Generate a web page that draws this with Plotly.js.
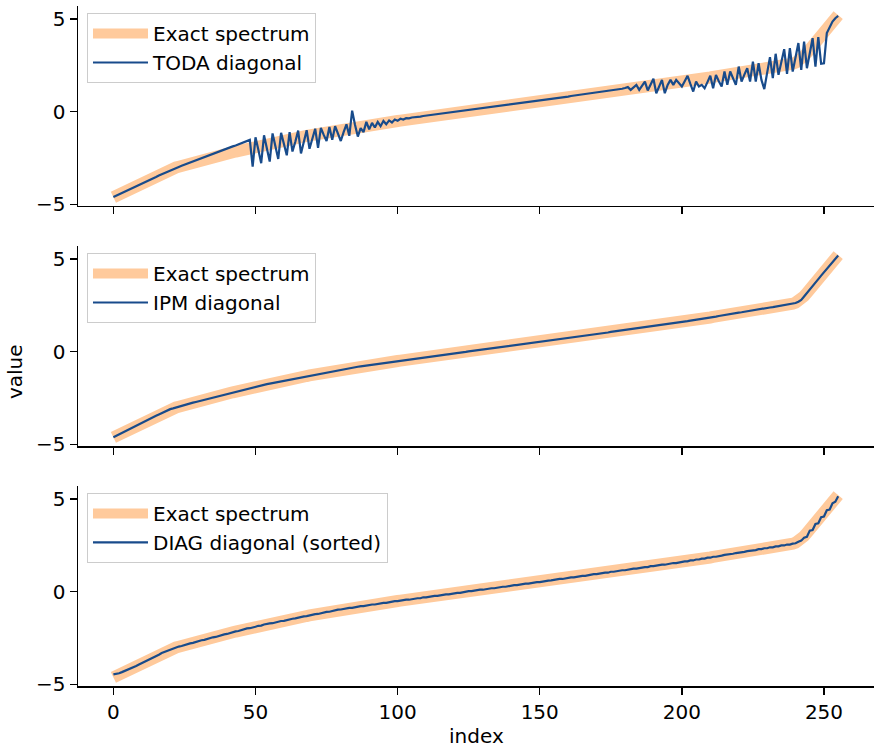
<!DOCTYPE html>
<html>
<head>
<meta charset="utf-8">
<script src="https://cdn.plot.ly/plotly-3.0.1.min.js"></script>
<style>html,body{margin:0;padding:0;background:#fff;}#chart{width:874px;height:750px;}</style>
</head>
<body>
<div id="chart"></div>
<script>
// ---- data ----
const exactSpectrum = [
-4.62,-4.54,-4.47,-4.39,-4.31,-4.23,-4.16,-4.08,-4.00,-3.92,
-3.85,-3.77,-3.69,-3.62,-3.54,-3.46,-3.39,-3.31,-3.23,-3.15,
-3.10,-3.06,-3.01,-2.97,-2.92,-2.88,-2.84,-2.79,-2.75,-2.71,
-2.67,-2.63,-2.59,-2.55,-2.51,-2.47,-2.43,-2.39,-2.35,-2.31,
-2.27,-2.23,-2.19,-2.15,-2.11,-2.07,-2.03,-1.99,-1.96,-1.92,
-1.88,-1.85,-1.82,-1.78,-1.75,-1.72,-1.69,-1.66,-1.62,-1.59,
-1.56,-1.53,-1.50,-1.47,-1.43,-1.40,-1.37,-1.34,-1.31,-1.28,
-1.25,-1.22,-1.19,-1.16,-1.13,-1.10,-1.07,-1.04,-1.01,-0.98,
-0.95,-0.93,-0.90,-0.88,-0.86,-0.84,-0.81,-0.79,-0.77,-0.75,
-0.72,-0.70,-0.68,-0.66,-0.63,-0.61,-0.59,-0.57,-0.54,-0.52,
-0.50,-0.48,-0.46,-0.44,-0.42,-0.40,-0.38,-0.36,-0.34,-0.31,
-0.29,-0.27,-0.25,-0.23,-0.21,-0.19,-0.17,-0.15,-0.13,-0.11,
-0.09,-0.07,-0.05,-0.03,-0.01,0.02,0.04,0.06,0.08,0.10,
0.12,0.14,0.16,0.18,0.20,0.22,0.24,0.26,0.28,0.30,
0.32,0.35,0.37,0.39,0.41,0.43,0.45,0.47,0.49,0.51,
0.53,0.55,0.57,0.59,0.62,0.64,0.66,0.68,0.70,0.72,
0.74,0.77,0.79,0.81,0.83,0.85,0.87,0.89,0.92,0.94,
0.96,0.98,1.00,1.02,1.04,1.07,1.09,1.11,1.13,1.15,
1.17,1.19,1.22,1.24,1.26,1.28,1.30,1.32,1.34,1.37,
1.39,1.41,1.43,1.45,1.47,1.49,1.52,1.54,1.56,1.58,
1.60,1.63,1.65,1.68,1.70,1.73,1.75,1.78,1.80,1.83,
1.85,1.88,1.90,1.93,1.96,1.98,2.01,2.03,2.06,2.08,
2.11,2.13,2.16,2.18,2.21,2.23,2.26,2.29,2.31,2.34,
2.36,2.39,2.41,2.44,2.46,2.49,2.51,2.54,2.56,2.59,
2.65,2.73,2.85,3.00,3.18,3.37,3.55,3.74,3.92,4.11,
4.29,4.48,4.66,4.85,5.03,5.22
];

const todaDiagonal = [
-4.61,-4.54,-4.46,-4.39,-4.32,-4.24,-4.17,-4.10,-4.02,-3.95,
-3.88,-3.81,-3.73,-3.66,-3.59,-3.52,-3.44,-3.37,-3.30,-3.22,
-3.15,-3.09,-3.03,-2.98,-2.92,-2.86,-2.80,-2.74,-2.69,-2.63,
-2.57,-2.51,-2.45,-2.40,-2.34,-2.28,-2.22,-2.16,-2.11,-2.05,
-1.99,-1.93,-1.87,-1.82,-1.76,-1.70,-1.64,-1.58,-1.52,-2.96,
-1.38,-2.05,-2.78,-1.27,-1.95,-2.69,-1.17,-1.85,-2.55,-1.14,
-1.70,-2.35,-1.10,-2.15,-1.62,-1.02,-2.25,-1.55,-1.00,-2.00,
-1.45,-0.92,-1.95,-0.87,-1.25,-1.58,-0.82,-1.52,-0.78,-1.15,
-1.58,-1.10,-0.68,-1.30,0.06,-0.70,-1.34,-0.89,-1.10,-0.55,
-0.95,-0.60,-0.85,-0.55,-0.78,-0.50,-0.68,-0.47,-0.58,-0.42,
-0.49,-0.38,-0.42,-0.35,-0.36,-0.31,-0.30,-0.28,-0.26,-0.23,
-0.21,-0.19,-0.17,-0.15,-0.13,-0.11,-0.09,-0.07,-0.05,-0.03,
-0.01,0.01,0.03,0.05,0.07,0.10,0.12,0.14,0.16,0.18,
0.20,0.22,0.24,0.26,0.28,0.30,0.32,0.34,0.36,0.38,
0.40,0.43,0.45,0.47,0.49,0.51,0.53,0.55,0.57,0.59,
0.61,0.63,0.65,0.67,0.70,0.72,0.74,0.76,0.78,0.80,
0.82,0.85,0.87,0.89,0.91,0.93,0.95,0.97,1.00,1.02,
1.04,1.06,1.08,1.10,1.12,1.15,1.17,1.19,1.22,1.24,
1.28,1.33,1.18,1.32,1.45,1.18,1.40,1.63,1.15,1.45,
1.78,1.00,1.40,1.72,1.00,1.45,1.72,1.45,1.72,1.55,
1.36,1.65,1.94,1.50,1.09,1.63,1.36,1.45,1.27,1.60,
1.94,1.27,1.99,1.65,1.36,2.17,1.45,2.17,1.80,1.45,
2.44,1.63,2.00,2.35,1.63,2.71,1.63,2.62,1.72,1.22,
2.10,2.95,1.81,3.13,1.99,2.70,3.38,2.05,3.43,2.17,
2.95,3.71,2.26,3.79,2.35,3.15,3.97,2.44,4.03,2.59,
2.62,4.25,4.60,4.87,5.05,5.18
];

const ipmDiagonal = [
-4.62,-4.54,-4.47,-4.39,-4.31,-4.23,-4.16,-4.08,-4.00,-3.92,
-3.85,-3.77,-3.69,-3.62,-3.54,-3.46,-3.39,-3.31,-3.23,-3.15,
-3.10,-3.06,-3.01,-2.97,-2.92,-2.88,-2.84,-2.79,-2.75,-2.71,
-2.67,-2.63,-2.59,-2.55,-2.51,-2.47,-2.43,-2.39,-2.35,-2.31,
-2.27,-2.23,-2.19,-2.15,-2.11,-2.07,-2.03,-1.99,-1.96,-1.92,
-1.88,-1.85,-1.82,-1.78,-1.75,-1.72,-1.69,-1.66,-1.62,-1.59,
-1.56,-1.53,-1.50,-1.47,-1.43,-1.40,-1.37,-1.34,-1.31,-1.28,
-1.25,-1.22,-1.19,-1.16,-1.13,-1.10,-1.07,-1.04,-1.01,-0.98,
-0.95,-0.93,-0.90,-0.88,-0.86,-0.84,-0.81,-0.79,-0.77,-0.75,
-0.72,-0.70,-0.68,-0.66,-0.63,-0.61,-0.59,-0.57,-0.54,-0.52,
-0.50,-0.48,-0.46,-0.44,-0.42,-0.40,-0.38,-0.36,-0.34,-0.31,
-0.29,-0.27,-0.25,-0.23,-0.21,-0.19,-0.17,-0.15,-0.13,-0.11,
-0.09,-0.07,-0.05,-0.03,-0.01,0.02,0.04,0.06,0.08,0.10,
0.12,0.14,0.16,0.18,0.20,0.22,0.24,0.26,0.28,0.30,
0.32,0.35,0.37,0.39,0.41,0.43,0.45,0.47,0.49,0.51,
0.53,0.55,0.57,0.59,0.62,0.64,0.66,0.68,0.70,0.72,
0.74,0.77,0.79,0.81,0.83,0.85,0.87,0.89,0.92,0.94,
0.96,0.98,1.00,1.02,1.04,1.07,1.09,1.11,1.13,1.15,
1.17,1.19,1.22,1.24,1.26,1.28,1.30,1.32,1.34,1.37,
1.39,1.41,1.43,1.45,1.47,1.49,1.52,1.54,1.56,1.58,
1.60,1.63,1.65,1.68,1.70,1.73,1.75,1.78,1.80,1.83,
1.85,1.88,1.90,1.93,1.96,1.98,2.01,2.03,2.06,2.08,
2.11,2.13,2.16,2.18,2.21,2.23,2.26,2.29,2.31,2.34,
2.36,2.39,2.41,2.44,2.46,2.49,2.51,2.54,2.56,2.59,
2.63,2.70,2.80,2.98,3.18,3.37,3.55,3.74,3.92,4.11,
4.29,4.48,4.66,4.85,5.03,5.20
];

const diagDiagonalSorted = [
-4.46,-4.45,-4.40,-4.34,-4.28,-4.22,-4.15,-4.08,-4.01,-3.93,
-3.86,-3.77,-3.71,-3.62,-3.56,-3.47,-3.40,-3.31,-3.25,-3.16,
-3.11,-3.05,-3.02,-2.96,-2.93,-2.87,-2.85,-2.79,-2.76,-2.70,
-2.68,-2.62,-2.60,-2.54,-2.52,-2.46,-2.44,-2.38,-2.36,-2.30,
-2.28,-2.22,-2.20,-2.14,-2.12,-2.06,-2.04,-1.98,-1.97,-1.91,
-1.89,-1.84,-1.83,-1.77,-1.76,-1.71,-1.70,-1.65,-1.63,-1.58,
-1.57,-1.52,-1.51,-1.46,-1.44,-1.39,-1.38,-1.33,-1.32,-1.27,
-1.26,-1.21,-1.20,-1.15,-1.14,-1.09,-1.08,-1.03,-1.02,-0.97,
-0.96,-0.92,-0.91,-0.87,-0.87,-0.83,-0.82,-0.78,-0.78,-0.74,
-0.73,-0.69,-0.69,-0.65,-0.64,-0.60,-0.60,-0.56,-0.55,-0.51,
-0.51,-0.47,-0.47,-0.43,-0.43,-0.39,-0.39,-0.35,-0.35,-0.30,
-0.30,-0.26,-0.26,-0.22,-0.22,-0.18,-0.18,-0.14,-0.14,-0.10,
-0.10,-0.06,-0.06,-0.02,-0.02,0.03,0.03,0.07,0.07,0.11,
0.11,0.15,0.15,0.19,0.19,0.23,0.23,0.27,0.27,0.31,
0.31,0.36,0.36,0.40,0.40,0.44,0.44,0.48,0.48,0.52,
0.52,0.56,0.56,0.60,0.61,0.65,0.65,0.69,0.69,0.73,
0.73,0.78,0.78,0.82,0.82,0.86,0.86,0.90,0.91,0.95,
0.95,0.99,0.99,1.03,1.03,1.08,1.08,1.12,1.12,1.16,
1.16,1.20,1.21,1.25,1.25,1.29,1.29,1.33,1.33,1.38,
1.38,1.42,1.42,1.46,1.46,1.50,1.51,1.55,1.55,1.59,
1.59,1.64,1.64,1.69,1.69,1.74,1.74,1.79,1.79,1.84,
1.84,1.89,1.89,1.94,1.95,1.99,2.00,2.04,2.05,2.09,
2.10,2.14,2.15,2.19,2.20,2.24,2.25,2.30,2.30,2.35,
2.35,2.40,2.40,2.45,2.45,2.50,2.50,2.55,2.55,2.60,
2.62,2.70,2.76,2.92,2.97,3.30,3.33,3.66,3.70,4.02,
4.06,4.40,4.44,4.78,4.86,5.16
];

const exactName = 'Exact spectrum';
const panelNames = ['TODA diagonal', 'IPM diagonal', 'DIAG diagonal (sorted)'];
const panelSeries = [todaDiagonal, ipmDiagonal, diagDiagonalSorted];
const xTickVals = [0, 50, 100, 150, 200, 250];
const yTickVals = [-5, 0, 5];
const yTickText = ['\u22125', '0', '5'];

// ---- styles ----
const ORANGE = '#ffca9c';
const BLUE = '#184b8b';
const FONT = 'DejaVu Sans, Arial, sans-serif';

const index = exactSpectrum.map((_, i) => i);
const axSuffix = ['', '2', '3'];
const legendIds = ['legend', 'legend2', 'legend3'];

const traces = [];
for (let p = 0; p < 3; p++) {
  traces.push({
    type: 'scatter', mode: 'lines', x: index, y: exactSpectrum, name: exactName,
    line: {color: ORANGE, width: 12},
    xaxis: 'x' + axSuffix[p], yaxis: 'y' + axSuffix[p], legend: legendIds[p],
    hoverinfo: 'skip'
  });
  traces.push({
    type: 'scatter', mode: 'lines', x: index, y: panelSeries[p], name: panelNames[p],
    line: {color: BLUE, width: 2.2},
    xaxis: 'x' + axSuffix[p], yaxis: 'y' + axSuffix[p], legend: legendIds[p],
    hoverinfo: 'skip'
  });
}

const xCommon = {
  range: [-12.45, 267.6], tickvals: xTickVals, ticks: 'outside', ticklen: 7, tickwidth: 1.5,
  tickcolor: '#000', showline: true, linecolor: '#000', linewidth: 1.5,
  showgrid: false, zeroline: false, tickfont: {family: FONT, size: 20, color: '#000'}
};
const yCommon = {
  range: [-5.09, 5.71], tickvals: yTickVals, ticktext: yTickText, ticks: 'outside', ticklen: 7, tickwidth: 1.5,
  tickcolor: '#000', showline: true, linecolor: '#000', linewidth: 1.5,
  showgrid: false, zeroline: false, tickfont: {family: FONT, size: 20, color: '#000'}
};
const legCommon = {
  xanchor: 'left', yanchor: 'top', bgcolor: 'rgba(255,255,255,0.85)', itemwidth: 55,
  bordercolor: '#cccccc', borderwidth: 1, font: {family: FONT, size: 20, color: '#000'}
};

const layout = {
  width: 874, height: 750,
  margin: {l: 78, r: 0, t: 6, b: 64, pad: 0},
  paper_bgcolor: '#fff', plot_bgcolor: '#fff',
  font: {family: FONT, size: 20, color: '#000'},
  showlegend: true,
  xaxis: Object.assign({}, xCommon, {anchor: 'y', domain: [0, 1], showticklabels: false}),
  xaxis2: Object.assign({}, xCommon, {anchor: 'y2', domain: [0, 1], matches: 'x', showticklabels: false}),
  xaxis3: Object.assign({}, xCommon, {anchor: 'y3', domain: [0, 1], matches: 'x', showticklabels: true}),
  yaxis: Object.assign({}, yCommon, {anchor: 'x', domain: [0.7059, 1]}),
  yaxis2: Object.assign({}, yCommon, {anchor: 'x2', domain: [0.3529, 0.6471]}),
  yaxis3: Object.assign({}, yCommon, {anchor: 'x3', domain: [0, 0.2941]}),
  legend: Object.assign({}, legCommon, {x: 0.0113, y: 0.9897}),
  legend2: Object.assign({}, legCommon, {x: 0.0113, y: 0.6368}),
  legend3: Object.assign({}, legCommon, {x: 0.0113, y: 0.2839}),
  annotations: [
    {text: 'value', xref: 'paper', yref: 'paper', x: -0.079, y: 0.4618, xanchor: 'center', yanchor: 'middle',
     textangle: -90, showarrow: false, font: {family: FONT, size: 20, color: '#000'}},
    {text: 'index', xref: 'paper', yref: 'paper', x: 0.5, y: -0.0735, xanchor: 'center', yanchor: 'middle',
     showarrow: false, font: {family: FONT, size: 20, color: '#000'}}
  ]
};

Plotly.newPlot('chart', traces, layout, {staticPlot: true, displayModeBar: false});
</script>
</body>
</html>
